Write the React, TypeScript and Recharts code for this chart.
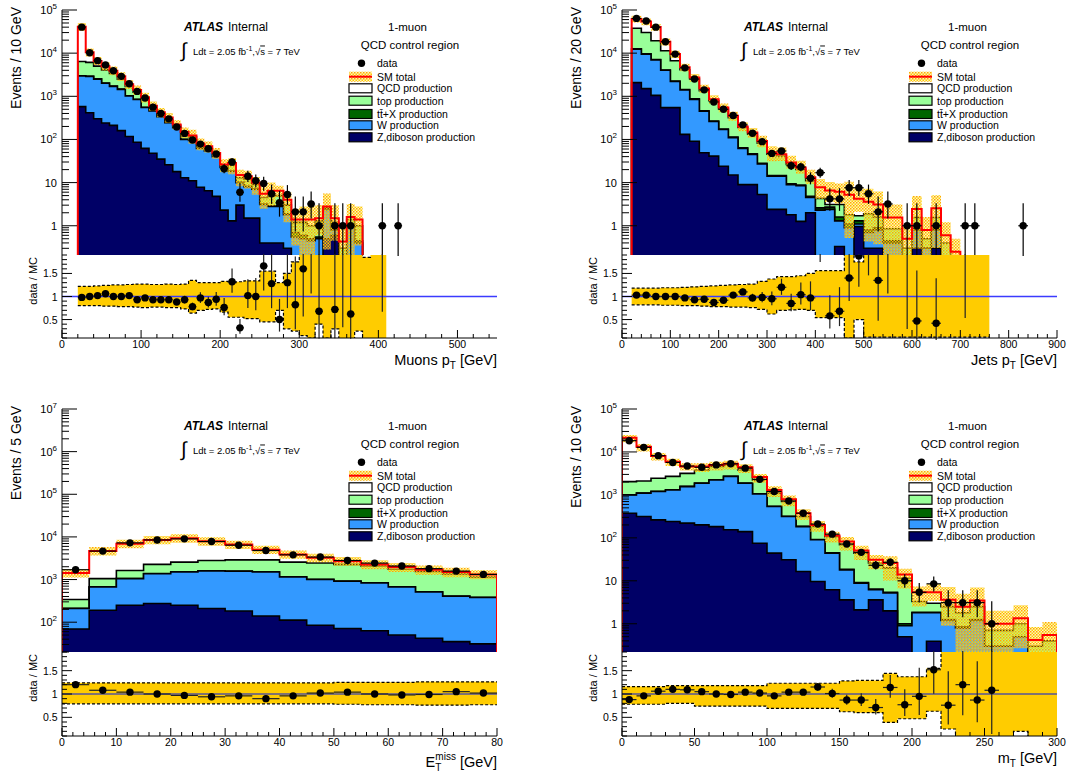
import React from 'react';
import { ComposedChart, Area, Line, Scatter, XAxis, YAxis, ErrorBar, ReferenceLine } from 'recharts';

const SANS = '"Liberation Sans", Arial, Helvetica, sans-serif';
const COL = { qcd: '#ffffff', top: '#99ff99', ttx: '#006600', w: '#3399ff', z: '#000066', red: '#ff0000', band: '#ffcc00' };

// ---------------- Panel 1 : Muons pT ----------------
const muEdges = [20,30,40,50,60,70,80,90,100,110,120,130,140,150,160,170,180,190,200,210,220,230,240,250,260,270,280,290,300,310,320,330,340,350,360,370,380,390,400,410];
const muZ = [575,417,303,240,212,160,117,86,62,48,35,26,18,13,11,7.8,6.5,4.8,2.3,1.3,3.0,1.5,1.5,0.4,0.4,0.4,0.3,0,0,0,0,0.5,0.6,0,0,0,0,0,0];
const muW = [2390,2480,2200,1760,1490,1290,900,760,490,410,300,220,170,87,84,54,48,35,20,17,7,6.5,5.5,2.7,2.4,2.4,1.5,0.55,0.5,0.45,0.5,1.9,0.2,0,1.0,0.4,0,0,0];
const muTtx = [30,30,25,20,17,13,9,7,5,3,2.5,2,1.5,1.2,1,0.8,0.7,0.5,0.3,0.3,0.2,0.2,0.15,0.1,0.1,0.1,0.1,0.15,0.1,0.05,0.05,0.05,0.05,0,0.05,0.05,0,0,0];
const muTop = [3400,3170,2480,2080,1680,1040,670,400,300,60,40,33,24,24,19,9,10,7.5,1.7,6.7,2.8,3.8,1.9,1.3,2.1,2.1,1.1,0.5,0.6,0.5,0.75,0.15,0.35,0.3,0.35,0.55,0,0,0];
const muQcd = [34600,4400,1600,900,500,400,200,140,90,80,50,40,8,23,9,9,4,1,2,3,2,2,1,1,1.5,1.5,1,0.2,0.2,0.4,0.2,0.2,0.3,0.13,0.2,0.4,0,0,0];
const muUp = [1.22,1.22,1.23,1.24,1.25,1.25,1.26,1.27,1.27,1.26,1.26,1.27,1.26,1.27,1.35,1.3,1.3,1.3,1.33,1.3,1.32,1.34,1.34,1.55,1.55,1.3,1.5,1.75,2,2,2,2,2,2,2,2,1.85,2,2];
const muDn = [0.8,0.8,0.8,0.79,0.79,0.78,0.78,0.77,0.76,0.77,0.77,0.76,0.76,0.73,0.64,0.7,0.72,0.73,0.66,0.55,0.55,0.52,0.52,0.45,0.45,0.7,0.3,0.25,0.15,0.1,0.4,0.1,0.3,0.05,0.05,0.25,0.05,0.05,0.05];
const muX = [25,35,45,55,65,75,85,95,105,115,125,135,145,155,165,175,185,195,205,215,225,235,245,255,265,275,285,295,305,315,325,335,345,355,365,375,385,395,405,415,425];
const muData = [40000,10200,6700,5300,3900,2900,1950,1300,910,560,400,300,195,138,97,78,61,46,21,30,6,14,11,9.5,5.5,3.4,5.3,2.1,2.1,3.2,1,0,1,1,1,0,0,0,1,0,1];
const muRatio = [0.98,1.0,1.02,1.06,1.0,1.0,1.02,0.93,0.97,0.93,0.93,0.93,0.88,0.93,0.78,0.97,0.87,0.94,0.76,1.32,0.32,1.02,1.0,1.66,1.28,0.5,1.3,0.82,1.6,2.3,0.68,0,0.72,2.5,0.62,0,0,0,5,0,0];

// ---------------- Panel 2 : Jets pT ----------------
const jetEdges = [20,40,60,80,100,120,140,160,180,200,220,240,260,280,300,320,340,360,380,400,420,440,460,480,500,520,540,560,580,600,620,640,660,680,700,720,740,760];
const jetZ = [2080,1510,1050,546,546,131,91,49,41,24,15,9,9,5.3,2.4,2.4,1.8,1.26,2.0,0,0,0.33,0,0.96,0.3,0.3,0.2,0.2,0,0.3,0,0.3,0,0,0,0,0];
const jetW = [10320,7990,5950,3454,1654,1269,759,401,219,146,95,53,36,21.7,11.6,11.6,7.2,7.2,2.5,2.3,2.4,0.97,0.9,0.14,0.4,0.5,0.2,0.2,0.1,0.5,0.3,0.5,0.2,0.05,0,0,0];
const jetTtx = [200,180,130,80,50,30,20,12,8,5,3,2,1.5,1,0.6,0.5,0.4,0.3,0.3,0.3,0.3,0.3,0.2,0.2,0.1,0.1,0.05,0.05,0,0.05,0,0.05,0,0,0,0,0];
const jetTop = [25100,20500,12300,7300,4400,2700,1650,880,520,330,208,125,86,54,31,27,17,11.5,6.2,1.7,0.4,1.5,0.7,0.4,1.1,0.7,0.4,0.4,0.2,0.7,0.2,0.7,0.2,0.1,0,0,0];
const jetQcd = [24500,24000,20700,7100,2900,600,200,170,70,45,32,11,12,10,5,4,3,2,2.3,3.5,3.5,3.0,3.4,2.5,1.7,1.5,0.7,0.7,0.2,0.9,0.3,1.0,0.2,0.1,0,0,0];
const jetUp = [1.18,1.18,1.18,1.19,1.19,1.2,1.21,1.22,1.23,1.24,1.25,1.26,1.27,1.33,1.38,1.43,1.43,1.45,1.5,1.56,1.56,1.56,2,1.75,2,2,2,2,2,2,2,2,2,2,2,2,2];
const jetDn = [0.82,0.82,0.82,0.81,0.81,0.8,0.8,0.79,0.78,0.78,0.77,0.77,0.76,0.72,0.62,0.7,0.71,0.72,0.7,0.54,0.54,0.54,0.1,0.5,0.12,0.12,0.12,0.12,0.12,0.12,0.12,0.12,0.12,0.12,0.12,0.12,0.12];
const jetX = [30,50,70,90,110,130,150,170,190,210,230,250,270,290,310,330,350,370,390,410,430,450,470,490,510,530,550,570,590,610,630,650,670,690,710,730,750,770,790,810,830];
const jetData = [63900,55600,40000,18400,9500,4560,2510,1410,740,500,360,218,139,89,47.5,54,24.6,23,12.6,17,4.2,4.2,7.6,7.6,5.5,2.1,3.2,0,1,1,0,1,0,0,1,1,0,0,0,0,1];
const jetRatio = [1.03,1.03,1.0,1.0,1.0,0.97,0.93,0.94,0.87,0.92,1.03,1.1,0.97,0.98,0.95,1.2,0.85,1.04,0.97,2.3,0.58,0.68,1.4,1.88,2.5,1.35,2.3,0,2.2,0.47,0,0.42,0,0,4,0,0,0,0,0,0];

// ---------------- Panel 3 : MET ----------------
const metEdges = [0,5,10,15,20,25,30,35,40,45,50,55,60,65,70,75,80];
const metZ = [69,190,250,275,250,210,183,140,112,85,71,63,50,42,35,31];
const metW = [141,480,800,1095,1250,1380,1377,1360,1038,915,839,767,620,468,370,349];
const metTtx = [2,5,8,10,12,12,13,13,12,12,11,10,9,8,7,6];
const metTop = [128,375,572,890,1058,1198,1327,1387,1408,1428,1349,1240,1071,1032,938,764];
const metQcd = [1080,3600,5270,6230,6730,5100,3700,2100,1300,800,430,190,210,150,150,170];
const metUp = [1.24,1.24,1.24,1.24,1.24,1.24,1.24,1.24,1.24,1.24,1.25,1.25,1.25,1.26,1.26,1.26];
const metDn = [0.79,0.79,0.79,0.79,0.79,0.79,0.79,0.79,0.79,0.79,0.78,0.77,0.77,0.76,0.76,0.77];
const metX = [2.5,7.5,12.5,17.5,22.5,27.5,32.5,37.5,42.5,47.5,52.5,57.5,62.5,67.5,72.5,77.5];
const metData = [1700,4650,7250,8500,9000,7800,6400,4800,3800,3370,2800,2430,2080,1800,1580,1320];
const metRatio = [1.2,1.08,1.04,1.0,0.97,0.94,0.96,0.9,0.96,1.02,1.04,1.0,0.98,0.99,1.05,1.02];

// ---------------- Panel 4 : mT ----------------
const mtEdges = [0,10,20,30,40,50,60,70,80,90,100,110,120,130,140,150,160,170,180,190,200,210,220,230,240,250,260,270,280,290,300];
const mtZ = [375,315,262,240,220,200,183,154,140,75,44,31,16.5,9.6,6.2,3.6,2.1,3.6,2.0,0.5,0,0.39,0,0,0,0,0,0,0,0];
const mtW = [625,785,938,1060,1340,1670,2047,2546,1730,975,491,284,166.5,80.4,37.8,14.4,6.7,2.6,3.2,0.4,1.8,1.41,1.2,0.8,1.2,0.3,0.3,0.5,0.1,0.2];
const mtTtx = [10,10,12,14,16,18,22,25,20,12,6,4,2,1.2,0.8,0.5,0.3,0.2,0.2,0.1,0.05,0.05,0.05,0.05,0.05,0,0,0,0,0];
const mtTop = [1030,990,1228,1386,1594,1912,2348,2275,1910,1168,559,381,130,92,62,50.5,34.9,19.6,14.6,10.5,1.45,1.15,1.25,0.95,1.25,0.4,0.4,0.5,0.2,0.2];
const mtQcd = [19460,11100,5660,3200,1430,800,400,300,600,370,200,90,60,17,6,13,7,5,6,2.5,2.1,2.4,1.1,0.7,1.0,0.3,0.3,0.35,0.12,0.15];
const mtUp = [1.16,1.16,1.16,1.18,1.18,1.18,1.18,1.18,1.18,1.18,1.23,1.23,1.23,1.23,1.23,1.28,1.29,1.29,1.44,1.37,1.37,1.55,2,2,2,2,2,2,2,2];
const mtDn = [0.78,0.78,0.78,0.8,0.8,0.74,0.74,0.74,0.74,0.74,0.69,0.69,0.69,0.69,0.69,0.62,0.6,0.6,0.39,0.47,0.47,0.63,0.25,0.05,0.05,0.05,0.05,0.2,0.05,0.05];
const mtX = [5,15,25,35,45,55,65,75,85,95,105,115,125,135,145,155,165,175,185,195,205,215,225,235,245,255,265,275,285,295];
const mtData = [18300,12800,8200,5700,4700,4400,5000,5300,4200,2300,1200,720,375,210,122,72,46,23,27,10,5.4,8.5,3.1,3.1,3.1,1.0,0,0,0,0];
const mtRatio = [0.88,0.96,1.06,1.1,1.09,1.05,1.0,0.99,1.04,1.02,0.96,1.04,1.04,1.15,1.01,0.87,0.87,0.71,1.14,0.77,0.95,1.52,0.76,1.2,0.87,1.08,0,0,0,0];

const legendLabels = ['data', 'SM total', 'QCD production', 'top production', 'tt\u0304+X production', 'W production', 'Z,diboson production'];

type Cfg = {
  id: string; ox: number; mainTop: number; mainH: number; ratioH: number;
  xMax: number; xMajor: number; xMinor: number; yMin: number; yMax: number; binW: number;
  edges: number[]; zdib: number[]; w: number[]; ttx: number[]; top: number[]; qcd: number[];
  up: number[]; dn: number[]; dataX: number[]; data: number[]; ratio: number[];
  yTitle: string; xTitle: React.ReactNode; xTitleDy: number; oneColor: string;
};

const cfgs: Cfg[] = [
  { id: 'p1', ox: 0, mainTop: 10, mainH: 245, ratioH: 83, xMax: 550, xMajor: 100, xMinor: 20, yMin: 0.21, yMax: 1e5, binW: 10,
    edges: muEdges, zdib: muZ, w: muW, ttx: muTtx, top: muTop, qcd: muQcd, up: muUp, dn: muDn, dataX: muX, data: muData, ratio: muRatio,
    yTitle: 'Events / 10 GeV', xTitle: <>Muons p<tspan dy={4} fontSize={10}>T</tspan><tspan dy={-4}> [GeV]</tspan></>, xTitleDy: 27, oneColor: '#3b3bff' },
  { id: 'p2', ox: 560, mainTop: 10, mainH: 245, ratioH: 83, xMax: 900, xMajor: 100, xMinor: 20, yMin: 0.21, yMax: 1e5, binW: 20,
    edges: jetEdges, zdib: jetZ, w: jetW, ttx: jetTtx, top: jetTop, qcd: jetQcd, up: jetUp, dn: jetDn, dataX: jetX, data: jetData, ratio: jetRatio,
    yTitle: 'Events / 20 GeV', xTitle: <>Jets p<tspan dy={4} fontSize={10}>T</tspan><tspan dy={-4}> [GeV]</tspan></>, xTitleDy: 27, oneColor: '#3b3bff' },
  { id: 'p3', ox: 0, mainTop: 409, mainH: 243, ratioH: 84, xMax: 80, xMajor: 10, xMinor: 2, yMin: 20, yMax: 1e7, binW: 5,
    edges: metEdges, zdib: metZ, w: metW, ttx: metTtx, top: metTop, qcd: metQcd, up: metUp, dn: metDn, dataX: metX, data: metData, ratio: metRatio,
    yTitle: 'Events / 5 GeV', xTitle: <>E<tspan dy={4} fontSize={10}>T</tspan><tspan dx={-6} dy={-11} fontSize={10}>miss</tspan><tspan dy={7}> [GeV]</tspan></>, xTitleDy: 31, oneColor: '#55559a' },
  { id: 'p4', ox: 560, mainTop: 409, mainH: 243, ratioH: 84, xMax: 300, xMajor: 50, xMinor: 10, yMin: 0.22, yMax: 1e5, binW: 10,
    edges: mtEdges, zdib: mtZ, w: mtW, ttx: mtTtx, top: mtTop, qcd: mtQcd, up: mtUp, dn: mtDn, dataX: mtX, data: mtData, ratio: mtRatio,
    yTitle: 'Events / 10 GeV', xTitle: <>m<tspan dy={4} fontSize={10}>T</tspan><tspan dy={-4}> [GeV]</tspan></>, xTitleDy: 27, oneColor: '#55559a' },
];

const W = 435;
const TOPPAD = 9;
const RIGHTPAD = 14;

function lowErr(n: number) { return Math.min(Math.sqrt(Math.max(n - 0.25, 0)), n * 0.999); }
function highErr(n: number) { return Math.sqrt(n + 0.75) + 1; }
function isMult(v: number, s: number) { return Math.abs(v / s - Math.round(v / s)) < 1e-6; }
function isDecade(v: number) { const l = Math.log10(v); return Math.abs(l - Math.round(l)) < 1e-6; }

function logTicks(min: number, max: number) {
  const t: number[] = [];
  for (let e = Math.floor(Math.log10(min)); e <= Math.ceil(Math.log10(max)); e++) {
    for (let m = 1; m <= 9; m++) {
      const v = m * Math.pow(10, e);
      if (v >= min * 0.999 && v <= max * 1.001) t.push(v);
    }
  }
  return t;
}
function linTicks(max: number, step: number) {
  const t: number[] = [];
  for (let i = 0; i * step <= max + 1e-9; i++) t.push(Math.round(i * step * 1000) / 1000);
  return t;
}
const ratioTicks = [1,2,3,4,5,6,7,8,9,10,11,12,13,14,15,16,17,18,19].map((i) => i / 10);

function buildHist(c: Cfg) {
  const tiny = c.yMin / 100;
  const pos = (v: number) => (v > 0 ? v : tiny);
  const n = c.zdib.length;
  const levels = c.zdib.map((_, i) => {
    const l1 = c.zdib[i]; const l2 = l1 + c.w[i]; const l3 = l2 + c.ttx[i]; const l4 = l3 + c.top[i]; const l5 = l4 + c.qcd[i];
    return { l1, l2, l3, l4, l5, lo: l5 * c.dn[i], hi: l5 * c.up[i] };
  });
  const mk = (x: number, L: any) => ({ x, c1: pos(L.l1), c2: pos(L.l2), c3: pos(L.l3), c4: pos(L.l4), c5: pos(L.l5), band: [pos(L.lo), pos(L.hi)] });
  const zero = { l1: 0, l2: 0, l3: 0, l4: 0, l5: 0, lo: 0, hi: 0 };
  const rows: any[] = [mk(c.edges[0], zero)];
  levels.forEach((L, i) => rows.push(mk(c.edges[i], L)));
  rows.push(mk(c.edges[n], levels[n - 1]));
  rows.push(mk(c.edges[n], zero));
  return rows;
}
function buildRatio(c: Cfg) {
  const n = c.up.length;
  const rows: any[] = c.up.map((u, i) => ({ x: c.edges[i], up: u, dn: c.dn[i], band: [c.dn[i], u] }));
  rows.push({ x: c.edges[n], up: c.up[n - 1], dn: c.dn[n - 1], band: [c.dn[n - 1], c.up[n - 1]] });
  return rows;
}

const dotShape = (p: any) => <circle cx={p.cx} cy={p.cy} r={3.7} fill="#000" />;

function Panel({ c }: { c: Cfg }) {
  const fl = c.ox + 62;
  const rTop = c.mainTop + c.mainH;
  const rows = buildHist(c);
  const rrows = buildRatio(c);
  const pts = c.dataX.map((x, i) => ({ x, y: c.data[i], ey: [lowErr(c.data[i]), highErr(c.data[i])], ex: c.binW / 2 })).filter((p) => p.y > 0);
  const rpts = c.dataX
    .map((x, i) => { const N = c.data[i]; const r = c.ratio[i]; return { x, y: r, N, ey: N > 0 ? [r * lowErr(N) / N, r * highErr(N) / N] : [0, 0], ex: c.binW / 2 }; })
    .filter((p) => p.y > 0 && p.N > 0);
  const xt = linTicks(c.xMax, c.xMinor);
  const yt = logTicks(c.yMin, c.yMax);
  const pid = 'hatch' + c.id;
  const ax = { xAxisId: 'b', yAxisId: 'l' } as any;

  const xTick = (dir: number, labels: boolean, maj: number, min: number) => (p: any) => {
    const v = p.payload.value; const M = isMult(v, c.xMajor);
    return (
      <g>
        <line x1={p.x} x2={p.x} y1={p.y} y2={p.y + dir * (M ? maj : min)} stroke="#000" strokeWidth={1} />
        {labels && M ? <text x={p.x} y={p.y + 10} textAnchor="middle" fontSize={10.5} fontFamily={SANS} fill="#000">{String(v)}</text> : null}
      </g>
    );
  };
  const logTickL = (p: any) => {
    const v = p.payload.value; const M = isDecade(v); const e = Math.round(Math.log10(v));
    return (
      <g>
        <line x1={p.x} x2={p.x + (M ? 15 : 7)} y1={p.y} y2={p.y} stroke="#000" strokeWidth={1} />
        {M ? (
          <text x={p.x - 5} y={p.y + 4} textAnchor="end" fontSize={11} fontFamily={SANS} fill="#000">
            {e === 0 ? '1' : e === 1 ? '10' : <>10<tspan dy={-5} fontSize={8}>{String(e)}</tspan></>}
          </text>
        ) : null}
      </g>
    );
  };
  const logTickR = (p: any) => {
    const v = p.payload.value; const M = isDecade(v);
    return <line x1={p.x} x2={p.x - (M ? 15 : 7)} y1={p.y} y2={p.y} stroke="#000" strokeWidth={1} />;
  };
  const rTickL = (p: any) => {
    const v = p.payload.value; const M = isMult(v, 0.5);
    return (
      <g>
        <line x1={p.x} x2={p.x + (M ? 10 : 5)} y1={p.y} y2={p.y} stroke="#000" strokeWidth={1} />
        {M ? <text x={p.x - 4.5} y={p.y + 4} textAnchor="end" fontSize={10.5} fontFamily={SANS} fill="#000">{String(v)}</text> : null}
      </g>
    );
  };
  const rTickR = (p: any) => {
    const v = p.payload.value; const M = isMult(v, 0.5);
    return <line x1={p.x} x2={p.x - (M ? 10 : 5)} y1={p.y} y2={p.y} stroke="#000" strokeWidth={1} />;
  };

  const commonX = { type: 'number' as const, dataKey: 'x', domain: [0, c.xMax], allowDataOverflow: true, ticks: xt, interval: 0, tickSize: 0, tickMargin: 0, axisLine: { stroke: '#000' }, tickLine: false };
  const commonY = { type: 'number' as const, dataKey: 'y', scale: 'log' as const, domain: [c.yMin, c.yMax], allowDataOverflow: true, ticks: yt, interval: 0, tickSize: 0, tickMargin: 0, axisLine: { stroke: '#000' }, tickLine: false };
  const commonR = { type: 'number' as const, dataKey: 'y', domain: [0.1, 1.9], allowDataOverflow: true, ticks: ratioTicks, interval: 0, tickSize: 0, tickMargin: 0, axisLine: { stroke: '#000' }, tickLine: false };
  const area = (key: string, fill: string, stroke: string) => (
    <Area {...ax} type="stepAfter" dataKey={key} fill={fill} fillOpacity={1} stroke={stroke} strokeWidth={1.6} dot={false} activeDot={false} isAnimationActive={false} baseValue={c.yMin} />
  );

  return (
    <>
      <div style={{ position: 'absolute', left: fl - 60, top: c.mainTop - TOPPAD }}>
        <ComposedChart width={60 + W + RIGHTPAD} height={c.mainH + TOPPAD + 1} data={rows} margin={{ top: TOPPAD, right: RIGHTPAD, bottom: 1, left: 0 }}>
          <defs>
            <pattern id={pid} width={3} height={3} patternUnits="userSpaceOnUse">
              <rect x={0} y={0} width={3} height={3} fill="#ffe040" fillOpacity={0.35} />
              <rect x={0} y={0} width={1.5} height={1.5} fill="#ffaa00" />
              <rect x={1.5} y={1.5} width={1.5} height={1.5} fill="#ffcc00" />
            </pattern>
          </defs>
          <XAxis xAxisId="b" {...commonX} height={0} tick={xTick(-1, false, 8, 4)} />
          <XAxis xAxisId="t" orientation="top" {...commonX} height={0} tick={xTick(1, false, 8, 4)} />
          <YAxis yAxisId="l" {...commonY} width={60} tick={logTickL} />
          <YAxis yAxisId="r" orientation="right" {...commonY} width={0} tick={logTickR} />
          {area('c5', COL.qcd, 'none')}
          {area('c4', COL.top, '#000')}
          {area('c3', COL.ttx, '#000')}
          {area('c2', COL.w, '#000')}
          {area('c1', COL.z, '#000')}
          <Area {...ax} type="stepAfter" dataKey="band" fill={`url(#${pid})`} fillOpacity={1} stroke="none" dot={false} activeDot={false} isAnimationActive={false} />
          <Line {...ax} type="stepAfter" dataKey="c5" stroke={COL.red} strokeWidth={2} dot={false} activeDot={false} isAnimationActive={false} />
          <Scatter {...ax} data={pts} dataKey="y" shape={dotShape} isAnimationActive={false}>
            <ErrorBar dataKey="ey" direction="y" width={0} stroke="#000" strokeWidth={1.2} isAnimationActive={false} />
            <ErrorBar dataKey="ex" direction="x" width={0} stroke="#000" strokeWidth={1.2} isAnimationActive={false} />
          </Scatter>
        </ComposedChart>
      </div>
      <div style={{ position: 'absolute', left: fl - 60, top: rTop - 1 }}>
        <ComposedChart width={60 + W + RIGHTPAD} height={c.ratioH + 1 + 28} data={rrows} margin={{ top: 1, right: RIGHTPAD, bottom: 0, left: 0 }}>
          <XAxis xAxisId="b" {...commonX} height={28} tick={xTick(-1, true, 8, 4)} />
          <XAxis xAxisId="t" orientation="top" {...commonX} height={0} tick={xTick(1, false, 8, 4)} />
          <YAxis yAxisId="l" {...commonR} width={60} tick={rTickL} />
          <YAxis yAxisId="r" orientation="right" {...commonR} width={0} tick={rTickR} />
          <Area {...ax} type="stepAfter" dataKey="band" fill={COL.band} fillOpacity={1} stroke="none" dot={false} activeDot={false} isAnimationActive={false} />
          <Line {...ax} type="stepAfter" dataKey="up" stroke="#000" strokeWidth={1.2} strokeDasharray="3 2" dot={false} activeDot={false} isAnimationActive={false} />
          <Line {...ax} type="stepAfter" dataKey="dn" stroke="#000" strokeWidth={1.2} strokeDasharray="3 2" dot={false} activeDot={false} isAnimationActive={false} />
          <ReferenceLine {...ax} y={1} stroke={c.oneColor} strokeWidth={1.6} />
          <Scatter {...ax} data={rpts} dataKey="y" shape={dotShape} isAnimationActive={false}>
            <ErrorBar dataKey="ey" direction="y" width={0} stroke="#222" strokeWidth={1.2} isAnimationActive={false} />
            <ErrorBar dataKey="ex" direction="x" width={0} stroke="#222" strokeWidth={1.2} isAnimationActive={false} />
          </Scatter>
        </ComposedChart>
      </div>
    </>
  );
}

function PanelText({ c }: { c: Cfg }) {
  const fl = c.ox + 62;
  const mt = c.mainTop;
  const rt = mt + c.mainH;
  const rb = rt + c.ratioH;
  const rowsY = [53.3, 66.7, 78.3, 90.7, 104, 115.3, 127.3].map((v) => mt + v);
  const boxCols = [COL.qcd, COL.top, COL.ttx, COL.w, COL.z];
  return (
    <g fontFamily={SANS} fill="#000">
      <text transform={`translate(${c.ox + 21},${mt - 3}) rotate(-90)`} textAnchor="end" fontSize={14}>{c.yTitle}</text>
      <text transform={`translate(${c.ox + 37},${rt + 2}) rotate(-90)`} textAnchor="end" fontSize={11}>data / MC</text>
      <text x={fl + W} y={rb + c.xTitleDy} textAnchor="end" fontSize={14.5}>{c.xTitle}</text>
      <text x={fl + 122} y={mt + 21} fontSize={12} fontWeight="bold" fontStyle="italic">ATLAS</text>
      <text x={fl + 166} y={mt + 21} fontSize={12}>Internal</text>
      <text x={fl + 119} y={mt + 47} fontSize={20}>∫</text>
      <text x={fl + 131} y={mt + 44.5} fontSize={9.5}>
        Ldt = 2.05 fb<tspan dy={-4} fontSize={7}>-1</tspan><tspan dy={4}>,√</tspan><tspan textDecoration="overline">s</tspan> = 7 TeV
      </text>
      <text x={fl + 345.5} y={mt + 21} fontSize={11.5} textAnchor="middle">1-muon</text>
      <text x={fl + 348} y={mt + 39} fontSize={11.5} textAnchor="middle">QCD control region</text>
      <circle cx={fl + 299.5} cy={rowsY[0]} r={3.7} fill="#000" />
      <rect x={fl + 287} y={rowsY[1] - 5} width={23} height={10} fill="url(#hatchLeg)" />
      <line x1={fl + 287} x2={fl + 310} y1={rowsY[1]} y2={rowsY[1]} stroke={COL.red} strokeWidth={2} />
      {boxCols.map((col, i) => (
        <rect key={i} x={fl + 287} y={rowsY[i + 2] - 4.5} width={23} height={9} fill={col} stroke="#000" strokeWidth={1.2} />
      ))}
      {legendLabels.map((t, i) => (
        <text key={t} x={fl + 315} y={rowsY[i] + 4} fontSize={10.5}>{t}</text>
      ))}
    </g>
  );
}

export default function App() {
  return (
    <div style={{ position: 'absolute', left: 0, top: 0, width: 1070, height: 773, background: '#fff', overflow: 'hidden' }}>
      {cfgs.map((c) => <Panel key={c.id} c={c} />)}
      <svg width={1070} height={773} style={{ position: 'absolute', left: 0, top: 0, pointerEvents: 'none' }}>
        <defs>
          <pattern id="hatchLeg" width={3} height={3} patternUnits="userSpaceOnUse">
            <rect x={0} y={0} width={3} height={3} fill="#ffe040" fillOpacity={0.35} />
            <rect x={0} y={0} width={1.5} height={1.5} fill="#ffaa00" />
            <rect x={1.5} y={1.5} width={1.5} height={1.5} fill="#ffcc00" />
          </pattern>
        </defs>
        {cfgs.map((c) => <PanelText key={c.id} c={c} />)}
      </svg>
    </div>
  );
}
